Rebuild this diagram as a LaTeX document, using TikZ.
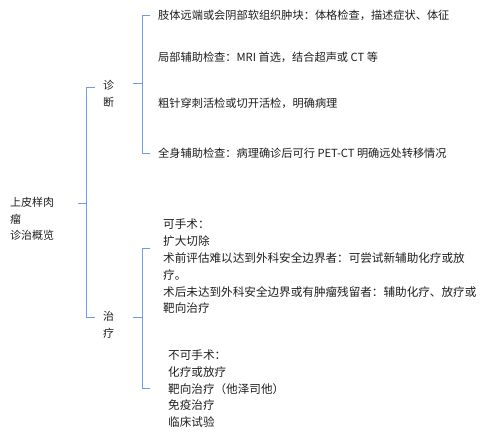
\documentclass[tikz,border=0pt]{standalone}
\usepackage{fontspec}
\setmainfont{Noto Sans CJK SC}
\definecolor{braceblue}{RGB}{112,156,228}
\definecolor{txt}{RGB}{30,30,30}

\begin{document}
\begin{tikzpicture}[x=1pt, y=-1pt, text=txt,
        brace/.style = {draw=braceblue, line width=0.8pt},
        item/.style = {anchor=west, inner sep=0pt, font=\fontsize{11.2}{16}\selectfont},
        block/.style = {anchor=north west, align=left, inner sep=0pt, font=\fontsize{11.6}{16.8}\selectfont},
        label/.style = {anchor=north west, align=left, inner sep=0pt, font=\fontsize{11}{16.5}\selectfont}]
        \useasboundingbox (0,0) rectangle (480,432);

        % root and the two branches
        \node[label] (root) at (10,197.5) {上皮样肉\\瘤\\诊治概览};
        \node[label] (diag) at (103,80.5) {诊\\断};
        \node[label] (treat) at (103,311.5) {治\\疗};

        % diagnosis
        \node[item] (d1) at (158,15) {肢体远端或会阴部软组织肿块：体格检查，描述症状、体征};
        \node[item] (d2) at (158,57) {局部辅助检查：MRI 首选，结合超声或 CT 等};
        \node[item] (d3) at (158,103) {粗针穿刺活检或切开活检，明确病理};
        \node[item] (d4) at (158,153) {全身辅助检查：病理确诊后可行 PET-CT 明确远处转移情况};

        % treatment
        \node[block] (t1) at (163,219) {可手术：\\扩大切除\\术前评估难以达到外科安全边界者：可尝试新辅助化疗或放\\疗。\\术后未达到外科安全边界或有肿瘤残留者：辅助化疗、放疗或\\靶向治疗};
        \node[block] (t2) at (168,349.5) {不可手术：\\化疗或放疗\\靶向治疗（他泽司他）\\免疫治疗\\临床试验};

        % bracket ends
        \coordinate (rootstub) at (78,203);
        \coordinate (diagtick) at (95,87);
        \coordinate (treattick) at (95,317);
        \coordinate (diagstub) at (133,83);
        \coordinate (treatstub) at (133,317);
        \coordinate (t1tick) at (150,248);

        \draw[brace] (rootstub) -- ++(8,0) |- (diagtick);
        \draw[brace] (rootstub) -- ++(8,0) |- (treattick);

        \draw[brace, shorten >=8pt] (diagstub) -- ++(9,0) |- (d1.west);
        \draw[brace, shorten >=8pt] (diagstub) -- ++(9,0) |- (d4.west);

        \draw[brace] (treatstub) -- ++(9,0) |- (t1tick);
        \draw[brace, shorten >=18pt] (treatstub) -- ++(9,0) |- (t2.west);

    \end{tikzpicture}
\end{document}
